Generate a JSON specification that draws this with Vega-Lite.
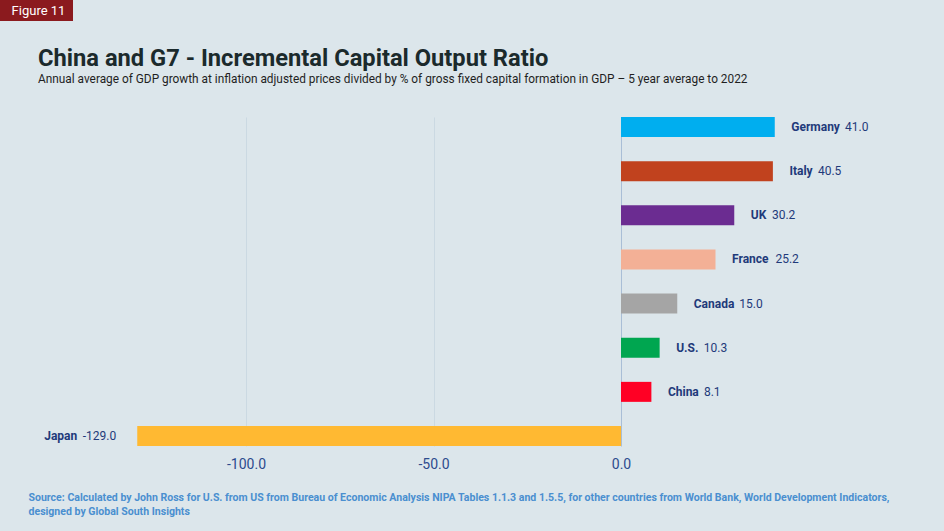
{
  "$schema": "https://vega.github.io/schema/vega-lite/v6.json",
  "background": "#dce6eb",
  "padding": {"left": 0, "top": 0, "right": 0, "bottom": 15},
  "spacing": 26,
  "config": {
    "font": "Roboto",
    "view": {"stroke": null},
    "locale": {"number": {"decimal": ".", "thousands": ",", "grouping": [3], "currency": ["$", ""], "minus": "-"}}
  },
  "vconcat": [
    {
      "width": 73,
      "height": 21,
      "view": {"fill": "#8b1a1e", "stroke": null},
      "data": {"values": [{"label": "Figure 11"}]},
      "mark": {"type": "text", "color": "#ffffff", "fontSize": 13, "font": "Roboto", "dx": 2},
      "encoding": {"text": {"field": "label"}}
    },
    {
      "width": 944,
      "height": 329,
      "title": {
        "text": "China and G7 - Incremental Capital Output Ratio",
        "subtitle": "Annual average of GDP growth at inflation adjusted prices divided by % of gross fixed capital formation in GDP – 5 year average to 2022",
        "anchor": "start",
        "frame": "group",
        "dx": 38,
        "font": "Roboto",
        "fontSize": 23.7,
        "fontWeight": "bold",
        "color": "#1b2a2c",
        "subtitleFont": "Roboto",
        "subtitleFontSize": 11.85,
        "subtitleColor": "#1f1f1f",
        "subtitlePadding": 3,
        "offset": 31
      },
      "data": {
        "values": [
          {"country": "Germany", "value": 41.0},
          {"country": "Italy", "value": 40.5},
          {"country": "UK", "value": 30.2},
          {"country": "France", "value": 25.2},
          {"country": "Canada", "value": 15.0},
          {"country": "U.S.", "value": 10.3},
          {"country": "China", "value": 8.1},
          {"country": "Japan", "value": -129.0}
        ]
      },
      "encoding": {
        "y": {
          "field": "country",
          "type": "nominal",
          "sort": ["Germany", "Italy", "UK", "France", "Canada", "U.S.", "China", "Japan"],
          "scale": {"paddingInner": 0.547, "paddingOuter": 0},
          "axis": null
        },
        "x": {
          "field": "value",
          "type": "quantitative",
          "scale": {"domain": [-165.6, 86.13], "nice": false, "zero": false},
          "axis": {
            "values": [-100, -50, 0],
            "labelExpr": "datum.value + '.0'",
            "labelFont": "Roboto",
            "labelFontSize": 14,
            "labelColor": "#2d4b8e",
            "labelPadding": 11.5,
            "ticks": false,
            "domain": false,
            "grid": true,
            "gridColor": {"condition": {"test": "datum.value === 0", "value": "#a9bed6"}, "value": "#cbd9e2"},
            "title": [
              "Source: Calculated by John Ross for U.S. from US from Bureau of Economic Analysis NIPA Tables 1.1.3 and 1.5.5, for other countries from World Bank, World Development Indicators,",
              "designed by Global South Insights"
            ],
            "titleAnchor": "start",
            "titleAlign": "left",
            "titleX": 28,
            "titleY": 46.5,
            "titleBaseline": "top",
            "titleFont": "Roboto",
            "titleFontSize": 10.55,
            "titleFontWeight": "bold",
            "titleColor": "#4a8fd0",
            "titleLineHeight": 13.5
          }
        }
      },
      "layer": [
        {
          "mark": {"type": "bar"},
          "encoding": {
            "color": {
              "field": "country",
              "type": "nominal",
              "scale": {
                "domain": ["Germany", "Italy", "UK", "France", "Canada", "U.S.", "China", "Japan"],
                "range": ["#00aeef", "#c1421e", "#6b2c91", "#f3b096", "#a5a5a5", "#00a650", "#ff0024", "#ffb932"]
              },
              "legend": null
            }
          }
        },
        {
          "transform": [{"filter": "datum.value > 0"}],
          "mark": {"type": "text", "align": "left", "dx": 16.5, "fontSize": 12, "font": "Roboto", "fontWeight": "bold", "color": "#1f3a7a"},
          "encoding": {"text": {"field": "country"}}
        },
        {
          "transform": [{"filter": "datum.value > 0"}],
          "mark": {
            "type": "text",
            "align": "left",
            "dx": {"expr": "22.5 + 3.25*length(replace(datum.country, regexp('[^iltI.]','g'), '')) + 4.2*length(replace(datum.country, regexp('[^r]','g'), '')) + 10.4*length(replace(datum.country, regexp('[^m]','g'), '')) + 7.6*length(replace(datum.country, regexp('[^A-HJ-Z]','g'), '')) + 6.4*length(replace(datum.country, regexp('[^a-hjknopqsu-z]','g'), ''))"},
            "fontSize": 12,
            "font": "Roboto",
            "color": "#1f3a7a"
          },
          "encoding": {"text": {"field": "value", "format": ".1f"}}
        },
        {
          "transform": [{"filter": "datum.value < 0"}],
          "mark": {"type": "text", "align": "right", "dx": -21, "fontSize": 12, "font": "Roboto", "color": "#1f3a7a"},
          "encoding": {"text": {"field": "value", "format": ".1f"}}
        },
        {
          "transform": [{"filter": "datum.value < 0"}],
          "mark": {"type": "text", "align": "right", "dx": -60, "fontSize": 12, "font": "Roboto", "fontWeight": "bold", "color": "#1f3a7a"},
          "encoding": {"text": {"field": "country"}}
        }
      ]
    }
  ]
}
